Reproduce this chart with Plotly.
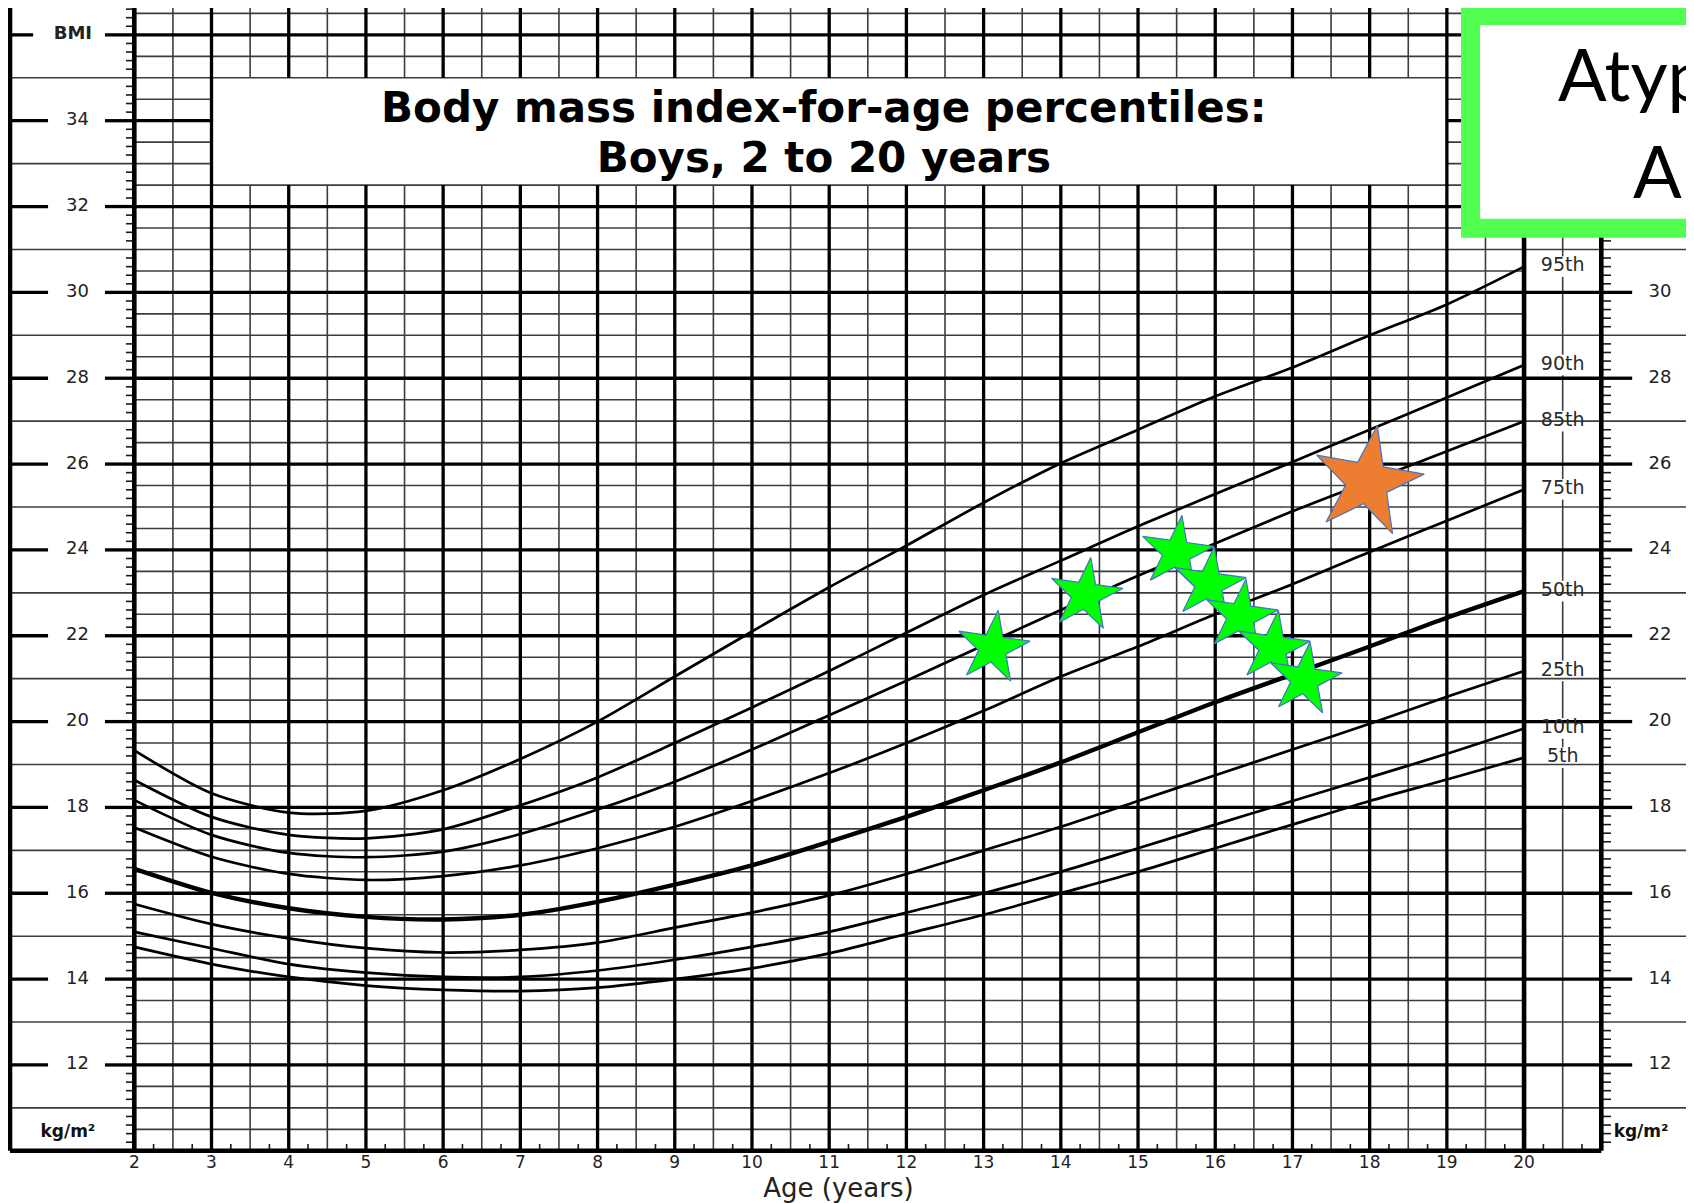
import plotly.graph_objects as go

# ---------------- data ----------------
ages = [2, 3, 4, 5, 6, 7, 8, 9, 10, 11, 12, 13, 14, 15, 16, 17, 18, 19, 20]
p5 = [14.75, 14.35, 14.05, 13.85, 13.75, 13.72, 13.80, 14.00, 14.25, 14.60, 15.05, 15.50, 16.00, 16.50, 17.05, 17.60, 18.15, 18.65, 19.16]
p10 = [15.10, 14.72, 14.35, 14.15, 14.05, 14.05, 14.20, 14.45, 14.75, 15.10, 15.55, 16.00, 16.50, 17.05, 17.60, 18.15, 18.70, 19.25, 19.84]
p25 = [15.75, 15.28, 14.95, 14.72, 14.62, 14.68, 14.85, 15.20, 15.55, 15.95, 16.45, 17.00, 17.55, 18.15, 18.75, 19.35, 19.95, 20.58, 21.18]
p50 = [16.57, 16.01, 15.65, 15.45, 15.39, 15.50, 15.80, 16.20, 16.65, 17.20, 17.78, 18.40, 19.05, 19.75, 20.45, 21.10, 21.75, 22.42, 23.04]
p75 = [17.53, 16.85, 16.45, 16.31, 16.40, 16.65, 17.05, 17.55, 18.15, 18.80, 19.50, 20.25, 21.05, 21.75, 22.50, 23.20, 23.95, 24.68, 25.41]
p85 = [18.17, 17.36, 16.94, 16.84, 16.97, 17.38, 17.95, 18.60, 19.35, 20.15, 20.95, 21.78, 22.60, 23.40, 24.15, 24.90, 25.60, 26.30, 27.00]
p90 = [18.64, 17.78, 17.36, 17.28, 17.49, 18.05, 18.70, 19.50, 20.33, 21.18, 22.07, 22.95, 23.75, 24.55, 25.30, 26.05, 26.80, 27.55, 28.31]
p95 = [19.33, 18.33, 17.88, 17.92, 18.40, 19.13, 20.00, 21.05, 22.10, 23.13, 24.10, 25.10, 26.02, 26.80, 27.58, 28.25, 29.00, 29.72, 30.60]
percentile_names = ["5th", "10th", "25th", "50th", "75th", "85th", "90th", "95th"]

visit_age = [13.12, 14.32, 15.50, 15.92, 16.33, 16.75, 17.16]
visit_bmi = [21.72, 22.95, 23.93, 23.20, 22.45, 21.72, 20.98]
target_age = [17.97]
target_bmi = [25.58]

age_ticks = list(range(2, 21))
bmi_ticks = list(range(12, 36, 2))
right_bmi_ticks = list(range(12, 31, 2))   # the upper ones sit under the callout box
title_lines = ["Body mass index-for-age percentiles:", "Boys, 2 to 20 years"]
box_lines = ["Atypical", "AN"]

# ---------------- layout geometry ----------------
# the page adds an 8px body margin, so the figure is 8px smaller on each axis
FIG_W, FIG_H = 1686, 1195
X_RANGE = [0.3642, 22.2007]
Y_RANGE = [8.7835, 36.626]
BOT, TOP = 10.0, 36.7
XF = 0.39          # outer left frame
XEND = 22.4        # beyond right edge
BX0, BX1, BY0, BY1 = 3, 19, 32.5, 35   # title box

curves = [p5, p10, p25, p50, p75, p85, p90, p95]
ends = [c[-1] for c in curves]

fig = go.Figure()


def add_segments(segs, width, color):
    xs, ys = [], []
    for x0, y0, x1, y1 in segs:
        xs += [x0, x1, None]
        ys += [y0, y1, None]
    fig.add_trace(go.Scatter(x=xs, y=ys, mode="lines", hoverinfo="skip",
                             line=dict(color=color, width=width)))


thin, thick, frame, ticks = [], [], [], []

# half-year verticals
for k in range(5, 40, 2):
    x = k / 2
    if BX0 < x < BX1:
        thin += [(x, BOT, x, BY0), (x, BY1, x, TOP)]
    else:
        thin.append((x, BOT, x, TOP))
# label column line with gaps around labels
y = BOT
for v in sorted(ends):
    thin.append((20.5, y, 20.5, v - 0.24))
    y = v + 0.24
thin.append((20.5, y, 20.5, TOP))

# half-unit horizontals
for k in range(21, 74, 2):
    yv = k / 2
    if BY0 < yv < BY1:
        thin += [(2, yv, BX0, yv), (BX1, yv, 20, yv)]
    else:
        thin.append((2, yv, 20, yv))
# odd integer horizontals (span panels)
for v in range(11, 37, 2):
    if BY0 < v < BY1:
        thin += [(XF, v, BX0, v), (BX1, v, XEND, v)]
    else:
        thin.append((XF, v, XEND, v))

# integer verticals
for x in range(3, 20):
    if BX0 < x < BX1:
        thick += [(x, BOT, x, BY0), (x, BY1, x, TOP)]
    else:
        thick.append((x, BOT, x, TOP))
# even horizontals with panel dashes
for v in range(12, 37, 2):
    if BY0 < v < BY1:
        thick += [(2, v, BX0, v), (BX1, v, 21, v)]
    else:
        thick.append((2, v, 21, v))
    thick.append((XF, v, 0.69 if v == 36 else 0.883, v))
    thick.append((1.62, v, 2, v))
    thick.append((21, v, 21.40, v))
    thick.append((22.11, v, XEND, v))

frame += [(2, BOT, 2, TOP), (20, BOT, 20, TOP), (21, BOT, 21, TOP),
          (XF, BOT, XF, TOP), (XF, BOT, 21, BOT)]

for k in range(51, 184):
    if k % 5:
        yv = k / 5
        ticks.append((1.892, yv, 2, yv))
        ticks.append((21, yv, 21.126, yv))
for k in range(9, 84, 2):
    xv = k / 4
    ticks.append((xv, BOT, xv, 10.16))

add_segments(thin, 1.6, "#3c3c3c")
add_segments(ticks, 1.6, "#1a1a1a")
add_segments(thick, 3.3, "#000000")
add_segments(frame, 4.6, "#000000")

# percentile curves
for name, c in zip(percentile_names, curves):
    fig.add_trace(go.Scatter(x=ages, y=c, mode="lines", name=name, hoverinfo="skip",
                             line=dict(color="#000000", width=4.4 if name == "50th" else 2.7,
                                       shape="spline", smoothing=0.8)))

# percentile labels
fig.add_trace(go.Scatter(x=[20.5] * len(ends), y=ends, text=percentile_names, mode="text",
                         textfont=dict(family="DejaVu Sans", size=19, color="#2a2a2a"),
                         hoverinfo="skip"))

# axis labels (left / right panels)
lab_font = dict(family="DejaVu Sans", size=18, color="#222222")
fig.add_trace(go.Scatter(x=[1.264] * len(bmi_ticks), y=bmi_ticks, text=[str(v) for v in bmi_ticks],
                         mode="text", textfont=lab_font, hoverinfo="skip"))
fig.add_trace(go.Scatter(x=[21.76] * len(right_bmi_ticks), y=right_bmi_ticks,
                         text=[str(v) for v in right_bmi_ticks],
                         mode="text", textfont=lab_font, hoverinfo="skip"))
fig.add_trace(go.Scatter(x=[1.205], y=[36], text=["BMI"], mode="text",
                         textfont=dict(family="DejaVu Sans", size=18, color="#222222", weight="bold"),
                         hoverinfo="skip"))
fig.add_trace(go.Scatter(x=[1.14], y=[10.42], text=["kg/m²"], mode="text",
                         textfont=dict(family="DejaVu Sans", size=17, color="#111111", weight="bold"),
                         hoverinfo="skip"))
fig.add_trace(go.Scatter(x=[21.16], y=[10.42], text=["kg/m²"], mode="text", textposition="middle right",
                         textfont=dict(family="DejaVu Sans", size=17, color="#111111", weight="bold"),
                         hoverinfo="skip"))
fig.add_trace(go.Scatter(x=age_ticks, y=[9.69] * len(age_ticks), text=[str(a) for a in age_ticks],
                         mode="text", textfont=dict(family="DejaVu Sans", size=17, color="#222222"),
                         hoverinfo="skip"))
fig.add_trace(go.Scatter(x=[11.12], y=[9.08], text=["Age (years)"], mode="text",
                         textfont=dict(family="DejaVu Sans", size=26, color="#222222"),
                         hoverinfo="skip"))

# title inside the white box
for txt, yv in zip(title_lines, [34.22, 33.06]):
    fig.add_trace(go.Scatter(x=[10.93], y=[yv], text=[txt], mode="text",
                             textfont=dict(family="DejaVu Sans", size=42, color="#000000", weight="bold"),
                             hoverinfo="skip"))

# patient measurements
fig.add_trace(go.Scatter(x=visit_age, y=visit_bmi, mode="markers", hoverinfo="skip",
                         marker=dict(symbol="star", size=54, color="#00FF00", angle=8,
                                     line=dict(color="#4472C4", width=1.2))))
fig.add_trace(go.Scatter(x=target_age, y=target_bmi, mode="markers", hoverinfo="skip",
                         marker=dict(symbol="star", size=82, color="#ED7D31", angle=10,
                                     line=dict(color="#4472C4", width=1.2))))

# green callout box (extends past the right edge)
fig.add_shape(type="rect", xref="x", yref="y", x0=19.306, x1=24.74, y0=31.493, y1=36.451,
              line=dict(color="#50FF50", width=19), fillcolor="#FFFFFF", layer="above")
for txt, yv in zip(box_lines, [35.12, 32.86]):
    fig.add_annotation(x=22.08, y=yv, xref="x", yref="y", text=txt, showarrow=False,
                       xanchor="center", yanchor="middle",
                       font=dict(family="Lato", size=72, color="#000000"))

fig.update_xaxes(range=X_RANGE, visible=False, fixedrange=True)
fig.update_yaxes(range=Y_RANGE, visible=False, fixedrange=True)
fig.update_layout(width=FIG_W, height=FIG_H, margin=dict(l=0, r=0, t=0, b=0),
                  paper_bgcolor="#FFFFFF", plot_bgcolor="#FFFFFF", showlegend=False)

fig.write_html("out.html")
